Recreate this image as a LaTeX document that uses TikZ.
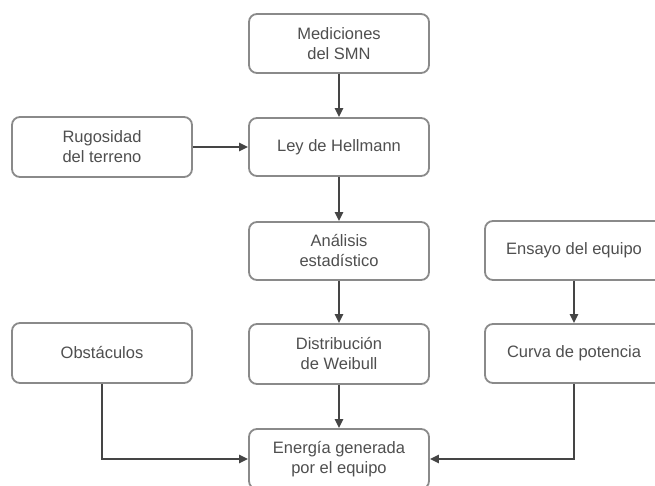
\documentclass[tikz,border=0pt]{standalone}
\usepackage{fontspec}
\setmainfont{Liberation Sans}
\usetikzlibrary{arrows.meta}
\definecolor{boxline}{HTML}{8A8A8A}
\definecolor{boxtext}{HTML}{4F4F4F}
\definecolor{flowline}{HTML}{454545}
\tikzset{
  stage/.style={draw=boxline, line width=1.8pt, rounded corners=8pt,
    fill=white, text=boxtext, align=center, inner sep=0pt,
    font=\fontsize{16.5}{20}\selectfont},
  flow/.style={draw=flowline, line width=2.6pt,
    -{Triangle[length=9pt,width=8pt]}}
}
\begin{document}
\begin{tikzpicture}[x=1pt,y=-1pt]
  \clip (0,0) rectangle (655,486);
  \fill[white] (0,0) rectangle (655,486);

  % centre column
  \node[stage, minimum width=180pt, minimum height=59pt] (med) at (339,43.5) {Mediciones\\del SMN};
  \node[stage, minimum width=180pt, minimum height=58pt] (ley) at (339,147) {Ley de Hellmann};
  \node[stage, minimum width=180pt, minimum height=58pt] (ana) at (339,251) {Análisis\\estadístico};
  \node[stage, minimum width=180pt, minimum height=60pt] (dis) at (339,354) {Distribución\\de Weibull};
  \node[stage, minimum width=180pt, minimum height=60pt] (ene) at (339,459) {Energía generada\\por el equipo};

  % left column
  \node[stage, minimum width=180pt, minimum height=60pt] (rug) at (102,147) {Rugosidad\\del terreno};
  \node[stage, minimum width=180pt, minimum height=60pt] (obs) at (102,353) {Obstáculos};

  % right column
  \node[stage, minimum width=178pt, minimum height=59pt] (ens) at (574,250.5) {Ensayo del equipo};
  \node[stage, minimum width=178pt, minimum height=59pt] (cur) at (574,353.5) {Curva de potencia};

  % connectors
  \draw[flow] (med) -- (ley);
  \draw[flow] (rug) -- (ley);
  \draw[flow] (ley) -- (ana);
  \draw[flow] (ana) -- (dis);
  \draw[flow] (dis) -- (ene);
  \draw[flow] (ens) -- (cur);
  \draw[flow] (obs.south) |- (ene.west);
  \draw[flow] (cur.south) |- (ene.east);
\end{tikzpicture}
\end{document}
